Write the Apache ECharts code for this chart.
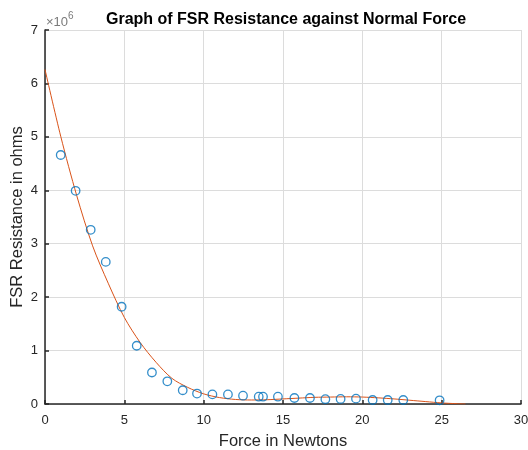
<!DOCTYPE html>
<html>
<head>
<meta charset="utf-8">
<script src="https://cdn.jsdelivr.net/npm/echarts@6/dist/echarts.min.js"></script>
<style>html,body{margin:0;padding:0;background:#fff}#c{width:528px;height:450px}</style>
</head>
<body>
<div id="c"></div>
<script>
// Measured points (force in N, resistance in 1e6 ohms)
var forceN = [0.99, 1.93, 2.88, 3.83, 4.83, 5.78, 6.74, 7.71, 8.68, 9.58, 10.55, 11.53, 12.48, 13.47, 13.74, 14.68, 15.72, 16.70, 17.67, 18.63, 19.60, 20.65, 21.60, 22.58, 24.87];
var resistanceM = [4.66, 3.99, 3.26, 2.66, 1.82, 1.09, 0.59, 0.425, 0.257, 0.195, 0.18, 0.18, 0.155, 0.137, 0.137, 0.137, 0.112, 0.112, 0.09, 0.095, 0.10, 0.075, 0.075, 0.075, 0.069];
// Fitted curve
var fitX = [0, 1, 2, 3, 4, 5, 6, 7, 8, 9, 10, 11, 12, 13, 14, 15, 16, 17, 18, 19, 20, 21, 22, 23, 24, 25, 26, 26.5];
var fitY = [6.26, 5.0, 3.9, 2.96, 2.25, 1.62, 1.15, 0.78, 0.48, 0.31, 0.19, 0.12, 0.085, 0.075, 0.08, 0.095, 0.11, 0.125, 0.13, 0.135, 0.13, 0.115, 0.095, 0.07, 0.045, 0.02, 0.005, 0];
var xTicks = [0, 5, 10, 15, 20, 25, 30];
var yTicks = [0, 1, 2, 3, 4, 5, 6, 7];

var pts = forceN.map(function (x, i) { return [x, resistanceM[i]]; });
var fit = fitX.map(function (x, i) { return [x, fitY[i]]; });

var chart = echarts.init(document.getElementById('c'), null, { renderer: 'canvas' });
var font = 'Helvetica, Arial, "Liberation Sans", sans-serif';
chart.setOption({
  animation: false,
  backgroundColor: '#ffffff',
  title: {
    text: 'Graph of FSR Resistance against Normal Force',
    left: 281, top: 7, textAlign: 'center',
    textStyle: { fontFamily: font, fontSize: 16, fontWeight: 'bold', color: '#000' }
  },
  grid: { left: 45, right: 7, top: 30, bottom: 46, containLabel: false, outerBoundsMode: 'none' },
  xAxis: {
    type: 'value', min: 0, max: 30, interval: 5,
    name: 'Force in Newtons', nameLocation: 'middle', nameGap: 29, nameMoveOverlap: false,
    nameTextStyle: { fontFamily: font, fontSize: 16.5, color: '#262626' },
    axisLine: { show: true, onZero: false, lineStyle: { color: '#262626', width: 1.5 } },
    axisTick: { show: true, inside: true, length: 4, lineStyle: { color: '#262626', width: 1.5 } },
    axisLabel: { fontFamily: font, fontSize: 13, color: '#262626', margin: 10,
      formatter: function (v) { return xTicks.indexOf(v) >= 0 ? String(v) : ''; } },
    splitLine: { show: true, lineStyle: { color: '#dcdcdc', width: 1 } }
  },
  yAxis: {
    type: 'value', min: 0, max: 7, interval: 1,
    name: 'FSR Resistance in ohms', nameLocation: 'middle', nameGap: 19, nameMoveOverlap: false,
    nameTextStyle: { fontFamily: font, fontSize: 16.5, color: '#262626' },
    axisLine: { show: true, onZero: false, lineStyle: { color: '#262626', width: 1.5 } },
    axisTick: { show: true, inside: true, length: 4, lineStyle: { color: '#262626', width: 1.5 } },
    axisLabel: { fontFamily: font, fontSize: 13, color: '#262626', margin: 7,
      formatter: function (v) { return yTicks.indexOf(v) >= 0 ? String(v) : ''; } },
    splitLine: { show: true, lineStyle: { color: '#dcdcdc', width: 1 } }
  },
  graphic: [{
    type: 'text', left: 46, top: 11,
    style: {
      text: '{a|×10}{b|6}',
      rich: {
        a: { fontFamily: font, fontSize: 13, fill: '#7a7a7a', verticalAlign: 'bottom', padding: [5, 0, 0, 0] },
        b: { fontFamily: font, fontSize: 10, fill: '#7a7a7a', verticalAlign: 'top', padding: [0, 0, 7, 0] }
      }
    }
  }],
  series: [{
    type: 'line', data: fit, smooth: 0.3, showSymbol: false, symbol: 'none',
    lineStyle: { color: '#D95319', width: 1 }, z: 2, silent: true
  }, {
    type: 'scatter', data: pts, symbol: 'circle', symbolSize: 8.5,
    itemStyle: { color: 'rgba(0,0,0,0)', borderColor: '#0072BD', borderWidth: 1.3 }, z: 3
  }]
});
</script>
</body>
</html>
